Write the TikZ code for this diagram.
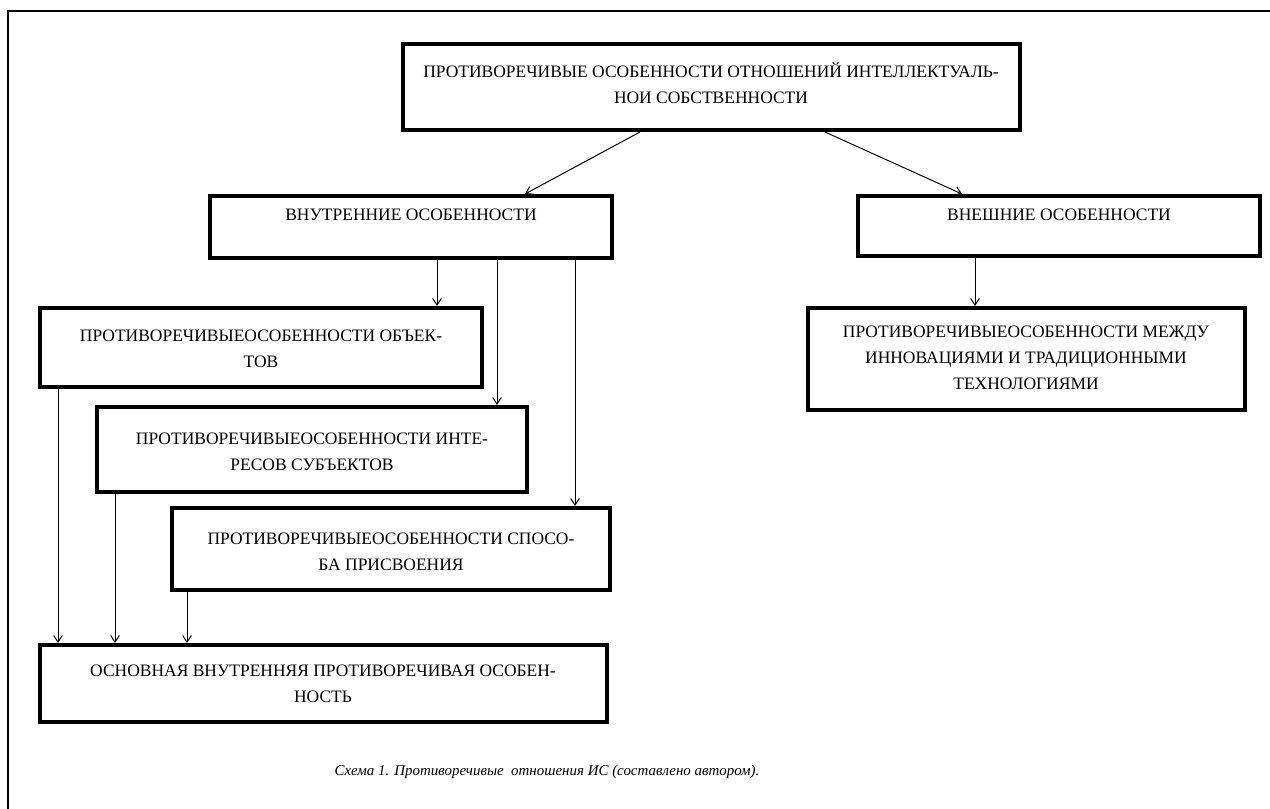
\documentclass[tikz,border=0pt]{standalone}
\usepackage{fontspec}
\setmainfont{Liberation Serif}
\usetikzlibrary{arrows.meta,fit}
\begin{document}
\begin{tikzpicture}[x=0.75pt,y=-0.75pt,
  box/.style={draw=black, line width=3pt, inner sep=0pt, fill=white},
  txt/.style={align=center, font=\fontsize{13.1}{19.5}\selectfont, inner sep=0pt},
  arr/.style={-{Straight Barb[length=5pt,width=6.5pt]}, line width=0.75pt},
  frameline/.style={line width=1.5pt}]
\useasboundingbox (0,0) rectangle (1270,809);
% outer frame (only left and top edges visible)
\coordinate (fbl) at (8,809);
\coordinate (ftl) at (8,11);
\coordinate (ftr) at (1270,11);
\draw[frameline] (fbl) -- (ftl) -- (ftr);

% boxes
\node[box, fit={(403,44) (1020,130)}] (top) {};
\node[box, fit={(210,196) (612,258)}] (inner) {};
\node[box, fit={(858,196) (1260,256)}] (outer) {};
\node[box, fit={(40,308) (482,387)}] (obj) {};
\node[box, fit={(97,407) (527,492)}] (int) {};
\node[box, fit={(172,508) (610,590)}] (spo) {};
\node[box, fit={(40,645) (607,722)}] (osn) {};
\node[box, fit={(808,308) (1245,410)}] (mez) {};

% texts
\node[txt] (topt) at (711,83) {ПРОТИВОРЕЧИВЫЕ ОСОБЕННОСТИ ОТНОШЕНИЙ ИНТЕЛЛЕКТУАЛЬ-\\НОИ СОБСТВЕННОСТИ};
\node[txt] (innert) at (411,215) {ВНУТРЕННИЕ ОСОБЕННОСТИ};
\node[txt] (outert) at (1059,215) {ВНЕШНИЕ ОСОБЕННОСТИ};
\node[txt] (objt) at (261,349) {ПРОТИВОРЕЧИВЫЕОСОБЕННОСТИ ОБЪЕК-\\ТОВ};
\node[txt] (intt) at (312,452) {ПРОТИВОРЕЧИВЫЕОСОБЕННОСТИ ИНТЕ-\\РЕСОВ СУБЪЕКТОВ};
\node[txt] (spot) at (391,552) {ПРОТИВОРЕЧИВЫЕОСОБЕННОСТИ СПОСО-\\БА ПРИСВОЕНИЯ};
\node[txt] (osnt) at (323,684) {ОСНОВНАЯ ВНУТРЕННЯЯ ПРОТИВОРЕЧИВАЯ ОСОБЕН-\\НОСТЬ};
\node[txt] (mezt) at (1026,358) {ПРОТИВОРЕЧИВЫЕОСОБЕННОСТИ МЕЖДУ\\ИННОВАЦИЯМИ И ТРАДИЦИОННЫМИ\\ТЕХНОЛОГИЯМИ};

% caption
\node[font=\fontsize{11.2}{14}\selectfont\itshape, inner sep=0pt] (cap) at (547,772) {Схема 1. Противоречивые\ \ отношения ИС (составлено автором).};

% connectors
\draw[arr] (top.south -| 640,0) -- (inner.north -| 525,0);
\draw[arr] (top.south -| 825,0) -- (outer.north -| 962,0);
\draw[arr] (inner.south -| 437,0) -- (obj.north -| 437,0);
\draw[arr] (inner.south -| 497,0) -- (int.north -| 497,0);
\draw[arr] (inner.south -| 575,0) -- (spo.north -| 575,0);
\draw[arr] (outer.south -| 975,0) -- (mez.north -| 975,0);
\draw[arr] (obj.south -| 58,0) -- (osn.north -| 58,0);
\draw[arr] (int.south -| 115,0) -- (osn.north -| 115,0);
\draw[arr] (spo.south -| 187,0) -- (osn.north -| 187,0);
\end{tikzpicture}
\end{document}
